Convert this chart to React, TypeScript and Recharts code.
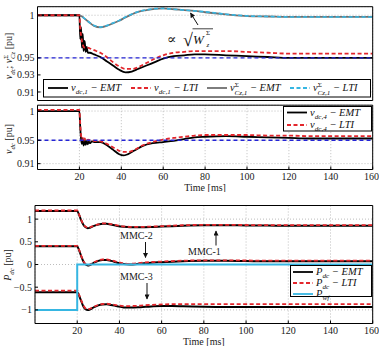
import React from 'react';
import { LineChart, Line, XAxis, YAxis, CartesianGrid, ReferenceLine, Legend } from 'recharts';

const SERIF = '"Liberation Serif", "DejaVu Serif", serif';
const BLACK = '#000000';
const RED = '#e3262c';
const GRAY = '#6f6f6f';
const CYAN = '#36b6e2';
const BLUE = '#2424d6';

// top panel: dc voltage at MMC-1 and the sum capacitor voltage
const t1 = [0, 20, 20.4, 20.8, 21.2, 21.6, 22, 22.5, 23, 23.5, 24, 25, 27, 30, 33, 36, 39, 42, 45, 48, 52, 56, 60, 65, 70, 75, 80, 90, 100, 110, 120, 130, 140, 150, 160];
const vdc1Emt = [1.0, 1.0, 0.972, 0.986, 0.962, 0.978, 0.958, 0.97, 0.957, 0.963, 0.956, 0.956, 0.954, 0.951, 0.946, 0.941, 0.936, 0.933, 0.934, 0.937, 0.941, 0.945, 0.949, 0.952, 0.953, 0.954, 0.954, 0.953, 0.952, 0.951, 0.95, 0.95, 0.95, 0.95, 0.95];
const vdc1Lti = [1.0, 1.0, 0.985, 0.976, 0.97, 0.966, 0.963, 0.962, 0.962, 0.962, 0.962, 0.961, 0.959, 0.956, 0.951, 0.945, 0.94, 0.937, 0.937, 0.939, 0.944, 0.949, 0.953, 0.956, 0.957, 0.958, 0.958, 0.958, 0.957, 0.956, 0.955, 0.955, 0.955, 0.955, 0.955];
const vcz1Emt = [1.0, 1.0, 0.9995, 0.999, 0.9985, 0.998, 0.997, 0.996, 0.995, 0.994, 0.993, 0.991, 0.9875, 0.9858, 0.9875, 0.9905, 0.9935, 0.9975, 1.001, 1.004, 1.006, 1.0075, 1.008, 1.007, 1.006, 1.005, 1.0035, 1.001, 0.999, 0.9985, 0.998, 0.998, 0.998, 0.998, 0.998];
const vcz1Lti = [1.0, 1.0, 0.9995, 0.999, 0.9985, 0.998, 0.997, 0.996, 0.995, 0.994, 0.993, 0.9912, 0.988, 0.986, 0.9878, 0.9908, 0.994, 0.998, 1.0012, 1.0042, 1.0062, 1.0077, 1.008, 1.007, 1.006, 1.005, 1.004, 1.0012, 0.9992, 0.9985, 0.998, 0.998, 0.998, 0.998, 0.998];

// middle panel: dc voltage at MMC-4
const t2 = [0, 20, 20.4, 20.8, 21.2, 21.6, 22, 22.5, 23, 23.5, 24, 24.5, 25, 26, 27, 30, 33, 36, 39, 41, 43, 46, 50, 55, 60, 65, 70, 75, 80, 90, 100, 110, 120, 130, 140, 150, 160];
const vdc4Emt = [1.0, 1.0, 0.972, 0.952, 0.944, 0.953, 0.941, 0.951, 0.942, 0.949, 0.943, 0.948, 0.945, 0.948, 0.947, 0.947, 0.942, 0.934, 0.926, 0.924, 0.926, 0.932, 0.94, 0.945, 0.947, 0.949, 0.952, 0.955, 0.956, 0.957, 0.956, 0.955, 0.954, 0.953, 0.953, 0.953, 0.953];
const vdc4Lti = [1.002, 1.002, 0.978, 0.958, 0.95, 0.954, 0.949, 0.953, 0.95, 0.952, 0.95, 0.951, 0.95, 0.95, 0.949, 0.948, 0.944, 0.938, 0.932, 0.93, 0.93, 0.933, 0.941, 0.947, 0.951, 0.954, 0.956, 0.958, 0.959, 0.959, 0.959, 0.958, 0.958, 0.957, 0.957, 0.957, 0.957];

// bottom panel: dc power of the three MMCs and the wind farm power
const t3 = [0, 20, 21, 22, 23, 24, 25, 26, 28, 30, 32, 34, 36, 39, 42, 45, 50, 55, 60, 65, 70, 80, 90, 100, 110, 120, 130, 140, 150, 160];
const p1Emt = [1.18, 1.18, 1.08, 0.96, 0.87, 0.82, 0.8, 0.81, 0.85, 0.88, 0.9, 0.9, 0.88, 0.85, 0.83, 0.82, 0.82, 0.825, 0.835, 0.845, 0.855, 0.865, 0.865, 0.86, 0.858, 0.855, 0.855, 0.855, 0.855, 0.855];
const p1Lti = [1.19, 1.19, 1.09, 0.97, 0.88, 0.83, 0.81, 0.82, 0.855, 0.885, 0.905, 0.905, 0.89, 0.86, 0.84, 0.83, 0.83, 0.835, 0.845, 0.855, 0.865, 0.872, 0.873, 0.87, 0.868, 0.866, 0.866, 0.866, 0.866, 0.866];
const p2Emt = [0.4, 0.4, 0.3, 0.17, 0.06, 0.0, -0.02, -0.01, 0.04, 0.08, 0.1, 0.1, 0.08, 0.04, 0.01, 0.0, 0.02, 0.04, 0.05, 0.06, 0.07, 0.08, 0.08, 0.075, 0.07, 0.07, 0.07, 0.07, 0.07, 0.07];
const p2Lti = [0.41, 0.41, 0.31, 0.18, 0.07, 0.01, -0.01, 0.0, 0.05, 0.09, 0.11, 0.11, 0.095, 0.055, 0.025, 0.015, 0.035, 0.055, 0.065, 0.075, 0.085, 0.09, 0.09, 0.088, 0.086, 0.085, 0.085, 0.085, 0.085, 0.085];
const p3Emt = [-0.61, -0.61, -0.7, -0.82, -0.93, -0.99, -1.0, -0.99, -0.94, -0.9, -0.88, -0.875, -0.89, -0.92, -0.945, -0.95, -0.94, -0.925, -0.915, -0.915, -0.92, -0.93, -0.935, -0.935, -0.935, -0.935, -0.935, -0.935, -0.935, -0.935];
const p3Lti = [-0.575, -0.575, -0.68, -0.8, -0.91, -0.97, -0.985, -0.975, -0.93, -0.89, -0.87, -0.865, -0.875, -0.9, -0.915, -0.915, -0.905, -0.89, -0.88, -0.875, -0.875, -0.875, -0.875, -0.875, -0.875, -0.875, -0.875, -0.875, -0.875, -0.875];
const tWf = [0, 20, 20, 160];
const pWf = [-1, -1, 0, 0];

const timeTicks = [20, 40, 60, 80, 100, 120, 140, 160];
const vTicks = [0.91, 0.93, 0.95, 1];
const pTicks = [-1, -0.5, 0, 0.5, 1];
const vDomain: [number, number] = [0.9, 1.01];
const pDomain: [number, number] = [-1.3, 1.3];
const vRef = 0.95;

type Pt = { t: number; y: number };
const rows = (t: number[], y: number[]): Pt[] => t.map((x, i) => ({ t: x, y: y[i] }));

const tickStyle = { fill: '#1a1a1a', fontSize: 10, fontFamily: SERIF };
const boxLine = { stroke: '#000', strokeWidth: 1 };
const fmtP = (v: number) => (v < 0 ? `\u2212${Math.abs(v)}` : `${v}`);

// italic math label: base with optional superscript / subscript and tail
const MathText = ({ x, y, base, sub, sup, tail, size = 10.5 }: any) => (
  <text x={x} y={y} fontFamily={SERIF} fontStyle="italic" fontSize={size} fill="#111">
    <tspan>{base}</tspan>
    {sup && <tspan fontSize={size * 0.68} fontStyle="normal" dy={-size * 0.42}>{sup}</tspan>}
    {sub && (
      <tspan fontSize={size * 0.68} dx={sup ? -size * 0.42 : 0} dy={sup ? size * 0.74 : size * 0.3}>
        {sub}
      </tspan>
    )}
    {tail && <tspan fontSize={size} dy={sup ? -size * 0.32 : -size * 0.3}>{tail}</tspan>}
  </text>
);

type LegItem = { x: number; y: number; color: string; dash?: string; label: any };

const LegendBox = ({ w, h, items }: { w: number; h: number; items: LegItem[] }) => (
  <svg width={w} height={h} style={{ display: 'block', overflow: 'visible' }}>
    <rect x={0.5} y={0.5} width={w - 1} height={h - 1} fill="#fff" stroke="#000" strokeWidth={1} />
    {items.map((it, i) => (
      <g key={i}>
        <line x1={it.x} x2={it.x + 20} y1={it.y} y2={it.y} stroke={it.color} strokeWidth={1.8} strokeDasharray={it.dash} />
        <MathText x={it.x + 23} y={it.y + 3.2} {...it.label} />
      </g>
    ))}
  </svg>
);

const legend1: LegItem[] = [
  { x: 5, y: 9, color: BLACK, label: { base: 'v', sub: 'dc,1', tail: ' \u2212 EMT' } },
  { x: 88, y: 9, color: RED, dash: '4 2.5', label: { base: 'v', sub: 'dc,1', tail: ' \u2212 LTI' } },
  { x: 164, y: 9, color: GRAY, label: { base: 'v', sup: '\u03a3', sub: 'Cz,1', tail: ' \u2212 EMT' } },
  { x: 247, y: 9, color: CYAN, dash: '4 2.5', label: { base: 'v', sup: '\u03a3', sub: 'Cz,1', tail: ' \u2212 LTI' } },
];
const legend2: LegItem[] = [
  { x: 4, y: 6.5, color: BLACK, label: { base: 'v', sub: 'dc,4', tail: ' \u2212 EMT' } },
  { x: 4, y: 19, color: RED, dash: '4 2.5', label: { base: 'v', sub: 'dc,4', tail: ' \u2212 LTI' } },
];
const legend3: LegItem[] = [
  { x: 3, y: 7, color: BLACK, label: { base: 'P', sub: 'dc', tail: ' \u2212 EMT' } },
  { x: 3, y: 18, color: RED, dash: '4 2.5', label: { base: 'P', sub: 'dc', tail: ' \u2212 LTI' } },
  { x: 3, y: 29, color: CYAN, label: { base: 'P', sub: 'wf' } },
];

const series = (data: Pt[], color: string, dashed: boolean, key: string, width = 1.8) => (
  <Line
    key={key}
    data={data}
    dataKey="y"
    type="monotone"
    stroke={color}
    strokeWidth={width}
    strokeDasharray={dashed ? '4 2.5' : undefined}
    dot={false}
    activeDot={false}
    isAnimationActive={false}
  />
);

// box axes: inward ticks on all four sides, like the original figure
const frame = (yDomain: [number, number], yTicks: number[], yWidth: number, xLabels: boolean, yFmt?: (v: number) => string) => [
  <XAxis
    key="xb"
    xAxisId={0}
    dataKey="t"
    type="number"
    domain={[0, 160]}
    ticks={timeTicks}
    allowDataOverflow
    height={xLabels ? 22.5 : 1}
    tick={xLabels ? tickStyle : false}
    tickSize={-3}
    tickMargin={6.5}
    axisLine={boxLine}
    tickLine={boxLine}
    label={xLabels ? { value: 'Time [ms]', position: 'insideBottom', offset: 1.5, fill: '#1a1a1a', fontSize: 10, fontFamily: SERIF } : undefined}
  />,
  <XAxis
    key="xt"
    xAxisId="top"
    orientation="top"
    dataKey="t"
    type="number"
    domain={[0, 160]}
    ticks={timeTicks}
    allowDataOverflow
    height={1}
    tick={false}
    tickSize={-3}
    axisLine={boxLine}
    tickLine={boxLine}
  />,
  <YAxis
    key="yl"
    yAxisId={0}
    type="number"
    domain={yDomain}
    ticks={yTicks}
    allowDataOverflow
    width={yWidth}
    tick={tickStyle}
    tickFormatter={yFmt}
    tickSize={-3}
    tickMargin={6}
    axisLine={boxLine}
    tickLine={boxLine}
  />,
  <YAxis
    key="yr"
    yAxisId="right"
    orientation="right"
    type="number"
    domain={yDomain}
    ticks={yTicks}
    allowDataOverflow
    width={1}
    tick={false}
    tickSize={-3}
    axisLine={boxLine}
    tickLine={boxLine}
  />,
  <CartesianGrid key="grid" stroke="#bdbdbd" strokeDasharray="1 2" />,
];

const legendProps = (left: number, top: number, w: number, h: number, items: LegItem[]) => ({
  layout: 'horizontal' as const,
  verticalAlign: 'middle' as const,
  align: 'center' as const,
  wrapperStyle: { position: 'absolute' as const, left, top, width: w, height: h },
  content: () => <LegendBox w={w} h={h} items={items} />,
});

const arrowHead = 'url(#arrowHead)';

const App = () => (
  <div style={{ position: 'absolute', left: 0, top: 0, width: 379, height: 346, overflow: 'hidden', background: '#fff', fontFamily: SERIF }}>
    <div style={{ position: 'absolute', left: 0, top: 0 }}>
      <LineChart width={379} height={102} margin={{ top: 5.7, right: 5.3, bottom: 0.5, left: 0 }}>
        {frame(vDomain, vTicks, 37.5, false)}
        {series(rows(t1, vcz1Emt), GRAY, false, 'czEmt')}
        {series(rows(t1, vcz1Lti), CYAN, true, 'czLti', 1.6)}
        {series(rows(t1, vdc1Emt), BLACK, false, 'dcEmt')}
        {series(rows(t1, vdc1Lti), RED, true, 'dcLti')}
        <ReferenceLine y={vRef} stroke={BLUE} strokeWidth={1.4} strokeDasharray="4 3" />
        <Legend {...legendProps(43, 79, 328, 18.5, legend1)} />
      </LineChart>
    </div>
    <div style={{ position: 'absolute', left: 0, top: 100 }}>
      <LineChart width={379} height={92} margin={{ top: 4.2, right: 5.3, bottom: 0, left: 0 }}>
        {frame(vDomain, vTicks, 37.5, true)}
        {series(rows(t2, vdc4Emt), BLACK, false, 'dc4Emt')}
        {series(rows(t2, vdc4Lti), RED, true, 'dc4Lti')}
        <ReferenceLine y={vRef} stroke={BLUE} strokeWidth={1.4} strokeDasharray="4 3" />
        <Legend {...legendProps(283, 5.5, 89, 25.5, legend2)} />
      </LineChart>
    </div>
    <div style={{ position: 'absolute', left: 0, top: 195 }}>
      <LineChart width={379} height={151} margin={{ top: 9.5, right: 5.3, bottom: 0, left: 0 }}>
        {frame(pDomain, pTicks, 35, true, fmtP)}
        {series(rows(t3, p1Emt), BLACK, false, 'p1Emt', 2)}
        {series(rows(t3, p1Lti), RED, true, 'p1Lti')}
        {series(rows(t3, p2Emt), BLACK, false, 'p2Emt', 2)}
        {series(rows(t3, p2Lti), RED, true, 'p2Lti')}
        {series(rows(t3, p3Emt), BLACK, false, 'p3Emt', 2)}
        {series(rows(t3, p3Lti), RED, true, 'p3Lti')}
        <Line data={rows(tWf, pWf)} dataKey="y" type="linear" stroke={CYAN} strokeWidth={2} dot={false} activeDot={false} isAnimationActive={false} />
        <Legend {...legendProps(290, 70, 82, 32, legend3)} />
      </LineChart>
    </div>

    {/* axis titles and annotations */}
    <svg width={379} height={346} style={{ position: 'absolute', left: 0, top: 0, pointerEvents: 'none' }}>
      <defs>
        <marker id="arrowHead" viewBox="0 0 10 10" refX="9" refY="5" markerWidth="6" markerHeight="5" orient="auto">
          <path d="M0,0 L10,5 L0,10 z" fill="#111" />
        </marker>
      </defs>

      <text transform="rotate(-90)" x={-56} y={12} textAnchor="middle" fontFamily={SERIF} fontSize={10} fill="#1a1a1a">
        <tspan fontStyle="italic">v</tspan>
        <tspan fontStyle="italic" fontSize={6.8} dy={2.5}>dc</tspan>
        <tspan dy={-2.5}>; </tspan>
        <tspan fontStyle="italic">v</tspan>
        <tspan fontSize={6.8} dy={-4}>{'\u03a3'}</tspan>
        <tspan fontStyle="italic" fontSize={6.8} dx={-4.3} dy={7}>Cz</tspan>
        <tspan dy={-3}> [pu]</tspan>
      </text>
      <text transform="rotate(-90)" x={-139} y={12} textAnchor="middle" fontFamily={SERIF} fontSize={10} fill="#1a1a1a">
        <tspan fontStyle="italic">v</tspan>
        <tspan fontStyle="italic" fontSize={6.8} dy={2.5}>dc</tspan>
        <tspan dy={-2.5}> [pu]</tspan>
      </text>
      <text transform="rotate(-90)" x={-265} y={11} textAnchor="middle" fontFamily={SERIF} fontSize={10} fill="#1a1a1a">
        <tspan fontStyle="italic">P</tspan>
        <tspan fontStyle="italic" fontSize={6.8} dy={2.5}>dc</tspan>
        <tspan dy={-2.5}> [pu]</tspan>
      </text>

      {/* proportional to sqrt(W_z) */}
      <text x={167} y={44} fontFamily={SERIF} fontSize={14} fill="#111">{'\u221d'}</text>
      <text x={183} y={46} fontFamily={SERIF} fontSize={18} fill="#111">{'\u221a'}</text>
      <line x1={192.5} x2={213} y1={28.8} y2={28.8} stroke="#111" strokeWidth={0.8} />
      <text x={193} y={44} fontFamily={SERIF} fontStyle="italic" fontSize={13} fill="#111">W</text>
      <text x={206} y={35} fontFamily={SERIF} fontSize={7} fill="#111">{'\u03a3'}</text>
      <text x={206.5} y={47} fontFamily={SERIF} fontStyle="italic" fontSize={7} fill="#111">z</text>
      <line x1={198} y1={25} x2={190.5} y2={13} stroke="#111" strokeWidth={1} markerEnd={arrowHead} />

      {/* converter annotations */}
      <text x={120} y={238.5} fontFamily={SERIF} fontSize={10} fill="#1a1a1a">MMC-2</text>
      <line x1={145.5} y1={242} x2={145.5} y2={257.5} stroke="#111" strokeWidth={1} markerEnd={arrowHead} />
      <text x={120} y={279.5} fontFamily={SERIF} fontSize={10} fill="#1a1a1a">MMC-3</text>
      <line x1={147} y1={283} x2={147} y2={299} stroke="#111" strokeWidth={1} markerEnd={arrowHead} />
      <text x={188} y={254.5} fontFamily={SERIF} fontSize={10} fill="#1a1a1a">MMC-1</text>
      <line x1={216} y1={245.5} x2={216} y2={231} stroke="#111" strokeWidth={1} markerEnd={arrowHead} />
    </svg>
  </div>
);

export default App;
